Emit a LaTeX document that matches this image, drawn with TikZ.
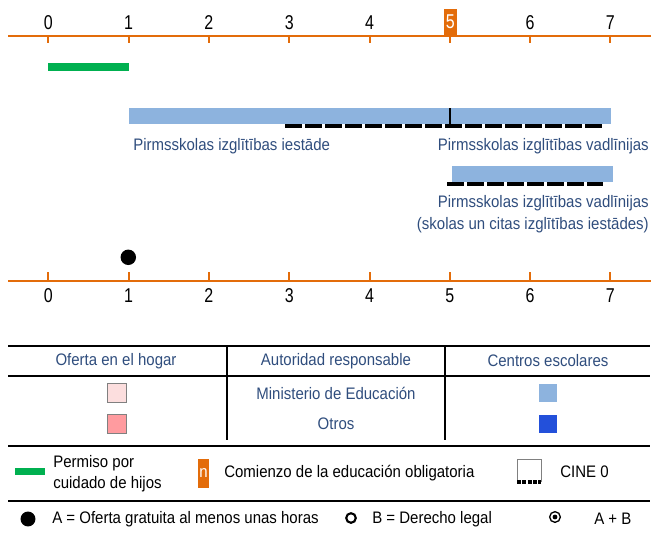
\documentclass[tikz,border=0pt]{standalone}
\usepackage{fontspec}
\setmainfont{Liberation Sans}[FakeStretch=0.9]
\newfontfamily\numfont{Liberation Sans}[FakeStretch=0.8]
\usepackage{xcolor}
\usetikzlibrary{positioning}
\definecolor{axorange}{RGB}{227,108,10}
\definecolor{leavegreen}{RGB}{0,176,80}
\definecolor{barblue}{RGB}{141,179,222}
\definecolor{darkblue}{RGB}{35,80,218}
\definecolor{txtblue}{RGB}{47,77,125}
\definecolor{pinklight}{RGB}{252,222,222}
\definecolor{pinkdark}{RGB}{255,155,159}
\begin{document}
\begin{tikzpicture}[x=0.75pt,y=-0.75pt,
  ax/.style={draw=axorange,line width=1.5pt},
  num/.style={font=\numfont\fontsize{15}{17}\selectfont,inner sep=0pt},
  lbl/.style={font=\fontsize{12.5}{14}\selectfont,text=txtblue,inner sep=0pt},
  hd/.style={font=\fontsize{12.5}{14}\selectfont,text=txtblue,inner sep=0pt},
  lg/.style={font=\fontsize{12.5}{14}\selectfont,inner sep=0pt,anchor=west},
  sq/.style={minimum size=14pt,inner sep=0pt},
  bar/.style={fill=barblue},
  isced/.style={line width=3.7pt,dash pattern=on 12.5pt off 2.5pt},
  rule/.style={line width=1.5pt}]
\useasboundingbox (0,0) rectangle (654,533);
% top axis
\draw[ax] (8,35.7) -- (651,35.7);
\foreach \i in {0,...,7} \draw[ax] (48.3+80.3*\i,35.7) -- ++(0,7);
\foreach \i in {0,1,2,3,4,6,7} \node[num] (t\i) at (48.3+80.3*\i,22.5) {\i};
\node[num,fill=axorange,text=white,minimum width=9.5pt,minimum height=19.5pt] (t5) at (450.3,22) {5};
% bars
\fill[leavegreen] (48.3,63) rectangle (129,71);
\fill[bar] (128.5,108.3) rectangle (610.7,123.7);
\draw[line width=1.1pt] (450,108.3) -- (450,123.7);
\draw[isced] (285,126) -- (602,126);
\node[lbl,anchor=west] (inst) at (133,146) {Pirmsskolas izglītības iestāde};
\node[lbl,anchor=east] (guide) at (649,146) {Pirmsskolas izglītības vadlīnijas};
\fill[bar] (452.3,166) rectangle (612.7,181.7);
\draw[isced] (447,184) -- (603,184);
\node[lbl,anchor=east] (guide2) at (649,203) {Pirmsskolas izglītības vadlīnijas};
\node[lbl,anchor=east] (schools) at (649,225) {(skolas un citas izglītības iestādes)};
\fill (128.3,257.3) circle (5.8pt);
% bottom axis
\draw[ax] (8,281) -- (651,281);
\foreach \i in {0,...,7} {
  \draw[ax] (48.3+80.3*\i,281) -- ++(0,-9);
  \node[num] (b\i) at (48.3+80.3*\i,295.5) {\i};
}
% table
\draw[rule] (8,346) -- (650,346);
\draw[rule] (8,376) -- (650,376);
\draw[rule] (8,446) -- (650,446);
\draw[rule] (8,501) -- (650,501);
\draw[line width=1.1pt] (227,346) -- (227,440);
\draw[line width=1.1pt] (445,346) -- (445,440);
\node[hd] (home) at (116,361) {Oferta en el hogar};
\node[hd] (auth) at (336,361) {Autoridad responsable};
\node[hd] (centres) at (548,361) {Centros escolares};
\node[sq,fill=pinklight,draw=gray] (h1) at (116.5,393) {};
\node[hd] (min) at (336,393) {Ministerio de Educación};
\node[sq,bar] (c1) at (548,393) {};
\node[sq,fill=pinkdark,draw=gray] (h2) at (116.5,424) {};
\node[hd] (oth) at (336,424) {Otros};
\node[sq,fill=darkblue] (c2) at (548,424) {};
% legend
\fill[leavegreen] (15,468) rectangle (45,475);
\node[lg] (leave) at (53,463) {Permiso por};
\node[lg] (leave2) at (53,484) {cuidado de hijos};
\node[fill=axorange,text=white,inner sep=0pt,minimum width=8.3pt,minimum height=21.7pt,
  font=\fontsize{12.5}{14}\selectfont] (n) at (203.5,473.5) {n};
\node[lg] (comp) at (224,473) {Comienzo de la educación obligatoria};
\draw[gray,line width=0.5pt] (517,482) -- (517,459) -- (541,459) -- (541,482);
\draw[line width=2.4pt,dash pattern=on 3pt off 1pt] (517,482) -- (541,482);
\node[lg] (cine) at (560,472) {CINE 0};
\fill (28,519) circle (5.6pt);
\node[lg] (a) at (52,519) {A = Oferta gratuita al menos unas horas};
\draw[line width=1.6pt] (351,518) circle (3.6pt);
\node[lg] (b) at (372,519) {B = Derecho legal};
\draw[line width=1pt] (555,517) circle (4pt);
\fill (555,517) circle (1.8pt);
\node[lg] (ab) at (594,519) {A + B};
\end{tikzpicture}
\end{document}
